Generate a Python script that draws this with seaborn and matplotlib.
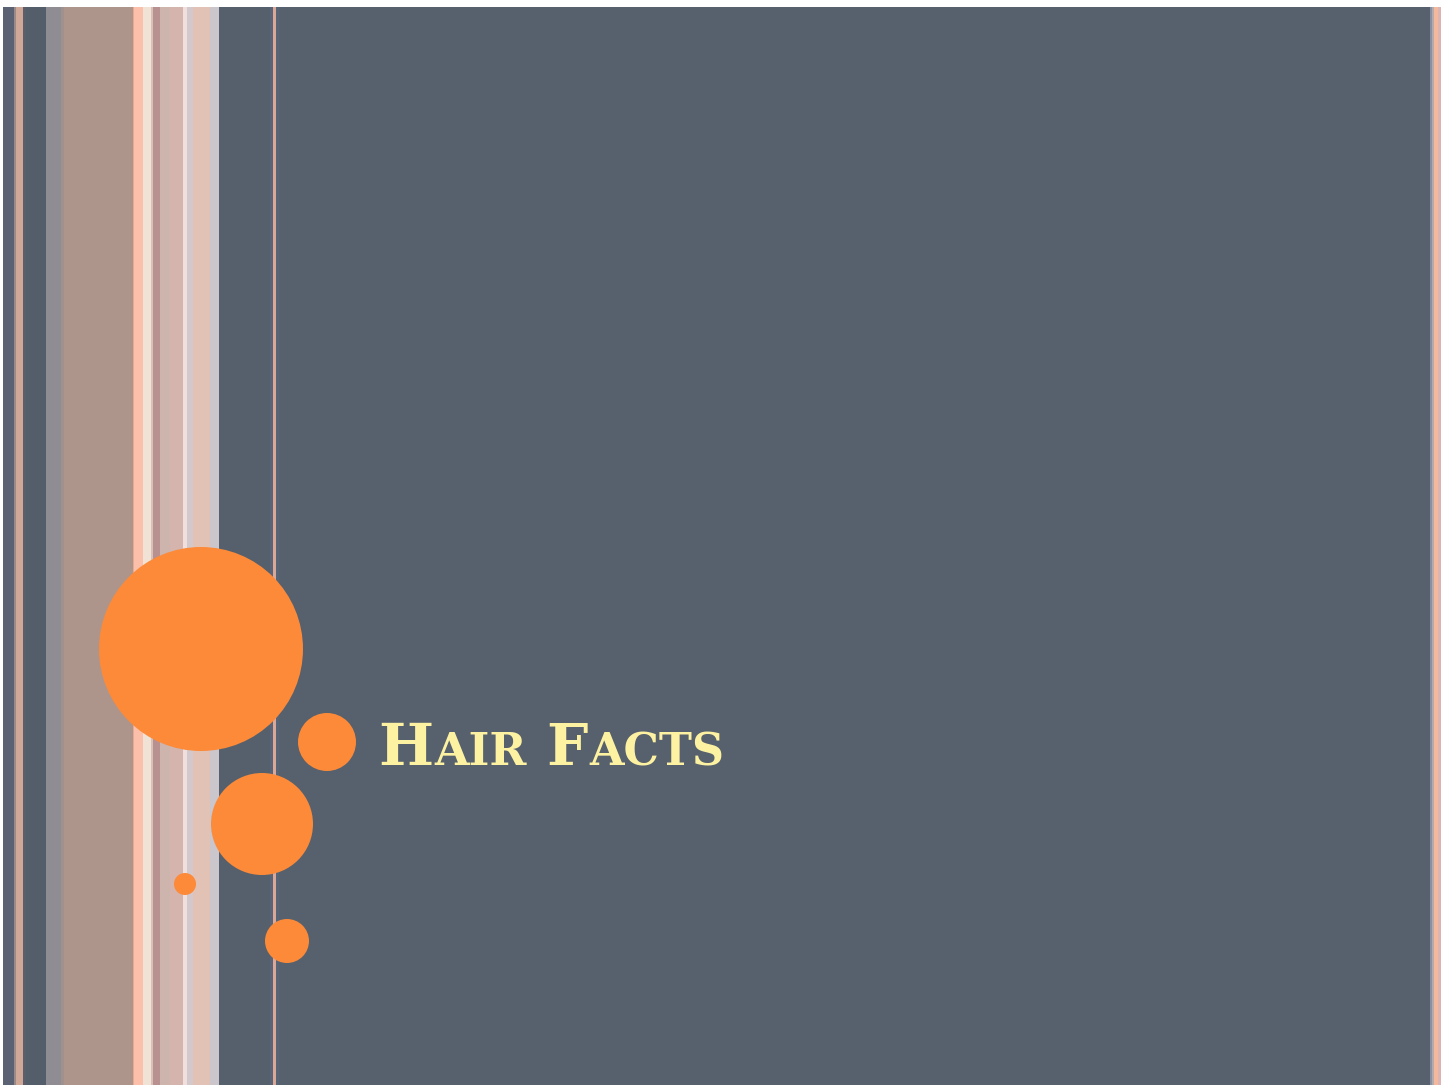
import matplotlib
matplotlib.use('Agg')
import matplotlib.pyplot as plt
from matplotlib.patches import Circle
import seaborn as sns

sns.set_style('white', {'axes.grid': False})

# slide geometry in pixels (left, right, colour)
slide_left, slide_right = 3, 1441
slide_top, slide_bottom = 7, 1085
slide_bg = '#57606d'

stripe_left = [3, 14, 16, 23, 26, 46, 61, 64, 133, 134, 143, 151, 153, 160, 170, 183, 187, 193, 210,
               219, 270, 273, 276, 1430, 1432, 1434, 1438]
stripe_right = [14, 16, 23, 26, 46, 61, 64, 133, 134, 143, 151, 153, 160, 170, 183, 187, 193, 210, 219,
                270, 273, 276, 279, 1432, 1434, 1438, 1441]
stripe_color = ['#5a6274', '#9a8a88', '#d0a898', '#5c5e6c', '#545e6a', '#8f8c94', '#a0908e', '#ae958c',
                '#e8a890', '#fcc0aa', '#f0e2d4', '#d8c0b8', '#b89090', '#cdb4ad', '#d4b4ac', '#efdfdd',
                '#d3c9cd', '#e3c2b6', '#cbc6cb', '#56606c', '#5a6478', '#dba898', '#566478',
                '#8a90a4', '#b4aaac', '#f4b89c', '#dcb4b4']

# orange dots
dot_x = [201, 327, 262, 185, 287]
dot_y = [649, 742, 824, 884, 941]
dot_r = [102, 29, 51, 11, 22]
dot_color = '#fc8a38'

# title in small caps: (text, is_capital)
title_parts = [('H', True), ('AIR', False), (' ', False), ('F', True), ('ACTS', False)]
title_x, title_base = 378, 765
title_color = '#fdf2a2'

W, H = 1441, 1088
fig = plt.figure(figsize=(W / 100, H / 100), dpi=100)
ax = fig.add_axes([0, 0, 1, 1])
ax.set_xlim(0, W)
ax.set_ylim(H, 0)
ax.axis('off')
fig.patch.set_facecolor('white')

ax.bar(slide_left, slide_bottom - slide_top, width=slide_right - slide_left, bottom=slide_top,
       align='edge', color=slide_bg, linewidth=0)
ax.bar(stripe_left, slide_bottom - slide_top,
       width=[r - l for l, r in zip(stripe_left, stripe_right)], bottom=slide_top,
       align='edge', color=stripe_color, linewidth=0)

for x, y, r in zip(dot_x, dot_y, dot_r):
    ax.add_patch(Circle((x, y), r, color=dot_color, lw=0, zorder=3))

renderer = fig.canvas.get_renderer()
x = title_x
for txt, cap in title_parts:
    t = ax.text(x, title_base, txt, fontsize=42 if cap else 32, color=title_color,
                family=['DejaVu Serif'], weight='bold', va='baseline', ha='left', zorder=4)
    bb = t.get_window_extent(renderer=renderer)
    x += bb.width + 1.5 if txt != ' ' else 18

fig.savefig('out.png', dpi=100)
